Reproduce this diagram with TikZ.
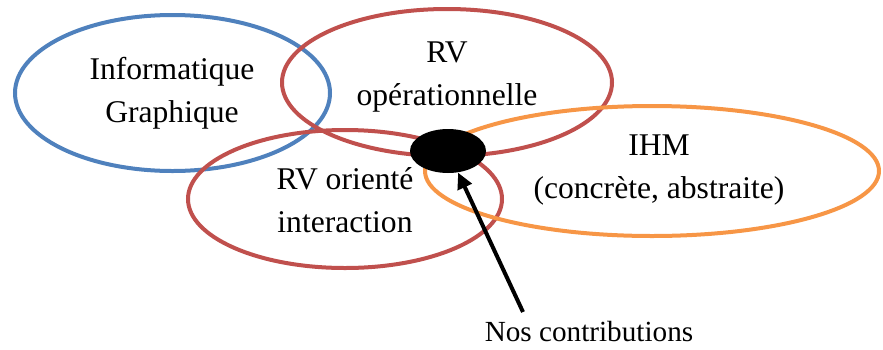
\documentclass[tikz,border=0pt]{standalone}
\usepackage{fontspec}
\setmainfont{Liberation Serif}
\usetikzlibrary{shapes.geometric,arrows.meta}
\definecolor{bleu}{RGB}{79,129,189}
\definecolor{rouge}{RGB}{192,80,77}
\definecolor{orange}{RGB}{247,150,70}
\begin{document}
\begin{tikzpicture}[x=0.5pt, y=-0.5pt,
    domaine/.style={ellipse, draw, line width=2pt, inner sep=0pt},
    texte/.style={align=center, inner sep=0pt, font=\fontsize{15.8}{21.5}\selectfont},
    fleche/.style={line width=2pt, -{Triangle[length=8pt, width=7.5pt]}}]
  \useasboundingbox (0,0) rectangle (883,349);

  % 1. Les domaines (ellipses)
  \node[domaine, bleu,  minimum width=157.5pt, minimum height=78pt]   (infog) at (172.5,93) {};
  \node[domaine, rouge, minimum width=165pt,   minimum height=73.5pt] (rvop)  at (447,82.5) {};
  \node[domaine, rouge, minimum width=157pt,   minimum height=69pt]   (rvint) at (345,199) {};
  \node[domaine, orange, minimum width=227pt,  minimum height=65pt]   (ihm)   at (652,171) {};

  % 2. Les textes de chaque domaine
  \node[texte] (tinfog) at (172,93)  {Informatique\\Graphique};
  \node[texte] (trvop)  at (447,77)  {RV\\opérationnelle};
  \node[texte] (trvint) at (345,200.5) {RV orienté\\interaction};
  \node[texte] (tihm)   at (659,170.5) {IHM\\(concrète, abstraite)};

  % 3. L'intersection et la flèche
  \node[ellipse, fill=black, inner sep=0pt, minimum width=38pt, minimum height=22pt] (contrib) at (448,151) {};
  \node[inner sep=0pt, anchor=base, font=\fontsize{14.6}{18}\selectfont] (nos) at (589,341.7) {Nos contributions};
  \coordinate (queue) at (523,312); % départ de la flèche, au-dessus du texte
  \draw[fleche] (queue) -- (contrib);
\end{tikzpicture}
\end{document}
